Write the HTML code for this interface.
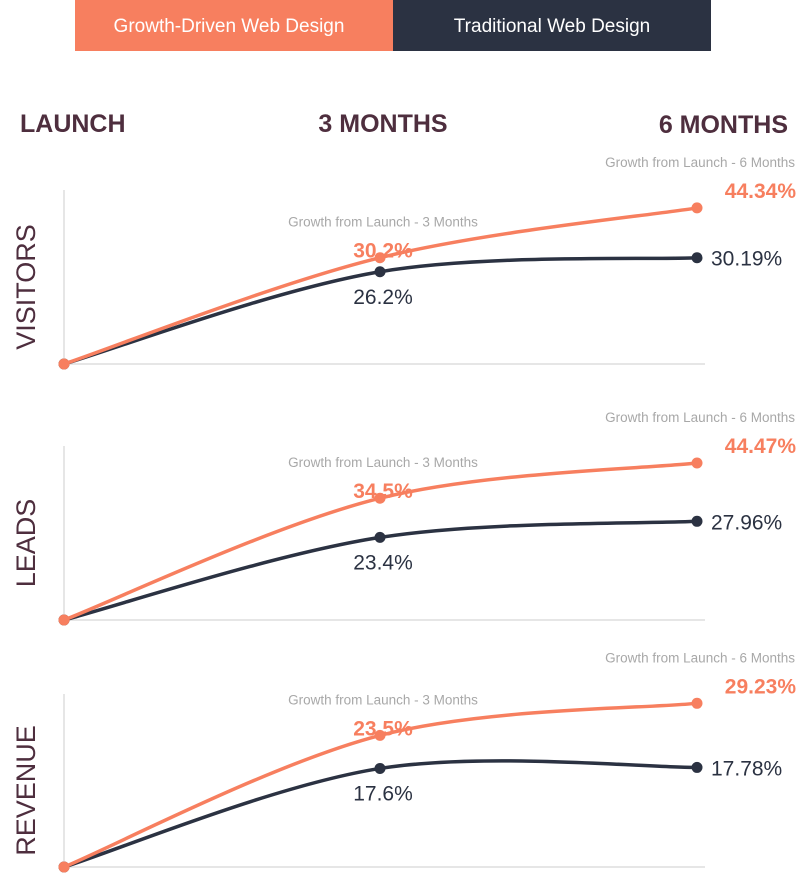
<!DOCTYPE html>
<html><head><meta charset="utf-8"><style>
body{margin:0;background:#fff;width:800px;height:873px;overflow:hidden;font-family:"Liberation Sans",sans-serif}
svg text{font-family:"Liberation Sans",sans-serif}
</style></head><body>
<svg id="c" width="800" height="873" viewBox="0 0 800 873">
<rect x="75" y="0" width="318" height="51" fill="#f77f5f"/>
<rect x="393" y="0" width="318" height="51" fill="#2b3242"/>
<text x="229" y="32" text-anchor="middle" font-size="19" fill="#fff">Growth-Driven Web Design</text>
<text x="552" y="32" text-anchor="middle" font-size="19" fill="#fff">Traditional Web Design</text>
<text x="20" y="132" font-size="25" font-weight="bold" fill="#4e2e3e">LAUNCH</text>
<text x="383" y="132" text-anchor="middle" font-size="25" font-weight="bold" fill="#4e2e3e">3 MONTHS</text>
<text x="788" y="133" text-anchor="end" font-size="25" font-weight="bold" fill="#4e2e3e">6 MONTHS</text>
<g id="panels"></g>
</svg>
<script>
const metrics = ["VISITORS","LEADS","REVENUE"];
const growthValues = [[0,30.2,44.34],[0,34.5,44.47],[0,23.5,29.23]];
const traditionalValues = [[0,26.2,30.19],[0,23.4,27.96],[0,17.6,17.78]];
const periods = ["Launch","3 Months","6 Months"];

const baselines=[364,620,867], scales=[3.52,3.53,5.6], axisTop=[190,446,694];
const xs=[64,380,697];
const NS="http://www.w3.org/2000/svg";
const g=document.getElementById('panels');
function mk(tag,attrs){const e=document.createElementNS(NS,tag);for(const k in attrs)e.setAttribute(k,attrs[k]);g.appendChild(e);return e;}
function yOf(p,v){return baselines[p]-v*scales[p];}
function path(pts){
  let d=`M${pts[0][0]},${pts[0][1]}`;
  for(let i=0;i<pts.length-1;i++){
    const p0=pts[Math.max(i-1,0)],p1=pts[i],p2=pts[i+1],p3=pts[Math.min(i+2,pts.length-1)];
    const c1=[p1[0]+(p2[0]-p0[0])/6,p1[1]+(p2[1]-p0[1])/6];
    const c2=[p2[0]-(p3[0]-p1[0])/6,p2[1]-(p3[1]-p1[1])/6];
    d+=` C${c1[0]},${c1[1]} ${c2[0]},${c2[1]} ${p2[0]},${p2[1]}`;
  }
  return d;
}
metrics.forEach((m,p)=>{
  const b=baselines[p];
  let e=mk('line',{x1:64,y1:axisTop[p],x2:64,y2:b,stroke:'#ddd','stroke-width':1.5});
  
  
  e=mk('line',{x1:64,y1:b,x2:705,y2:b,stroke:'#ddd','stroke-width':1.5});
  
  
  const cy=(axisTop[p]+b)/2+10;
  e=mk('text',{x:0,y:0,transform:`translate(35,${cy}) rotate(-90)`,'text-anchor':'middle','font-size':27,fill:'#4e2e3e'});
  e.textContent=m;
  
  
  [[traditionalValues,'#2b3242','traditional'],[growthValues,'#f77f5f','growth']].forEach(([arr,col,nm])=>{
    const pts=arr[p].map((v,i)=>[xs[i],yOf(p,v)]);
    let l=mk('path',{d:path(pts),fill:'none',stroke:col,'stroke-width':3.5});
    
    
    pts.forEach((pt,i)=>{
      const c=mk('circle',{cx:pt[0],cy:pt[1],r:5.5,fill:col});
      
      
    });
  });
  const go3=yOf(p,growthValues[p][1]), go6=yOf(p,growthValues[p][2]);
  const tr3=yOf(p,traditionalValues[p][1]), tr6=yOf(p,traditionalValues[p][2]);
  const lab=(x,y,txt,anchor,size,col,bold,name)=>{
    const t=mk('text',{x:x,y:y,'text-anchor':anchor,'font-size':size,fill:col,'font-weight':bold?'bold':'normal'});
    t.textContent=txt;
    
    
  };
  lab(383,go3-31,'Growth from Launch - '+periods[1],'middle',13.5,'#a8a8a8',false,'growth-note-3-months');
  lab(383,go3-29+(-0)+(-0)+ -0 + 0 + 0 + 0 + 0 + 0 + 0 + 0 + 0 + 0 + 0 + 29-29+ -0 + 0 + 0 + 0 + 0+0, '', 'middle',1,'#fff',false,'spacer');
  lab(383,go3-30+ -0 + 0 + 0 + 0 + 0 + 0 + 0 + 0 + 0 + 0 + 0 + 0 + 0 + 0 + 0 + 0 + 0 + 0 + 0 + 0 + 0 + 0 + 0 + 0 + 0 + 0 + 0 + 0 + 0 + 0 + 0 + 0 + 0 + 0 + 0 + 0 + 0 + 0 + 0 + 0 + 0 + 0 + 0 + 0 + 0 + 0 + 0 + 0 + 0 + 0 + 0 + 0 + 0 + 0 + 0 + 0 + 0 + 0 + 0 + 0 + 0 + 0 + 0 + 0 + 0 + 0 + 0 + 0 + 0 + 0 + 0 + 0 + 0 + 0 + 0 + 0 + 0 + 0 + 0 + 0 + 0 + 0 + 0 + 0 + 0 + 0 + 0 + 0 + 0 + 0 + 0 + 0 + 0 + 0 + 0 + 0 + 0 + 0 + 0 + 0 + 0 + 0 + 0 + 0 + 0 + 0 + 0 + 0 + 0 + 0 + 0 + 0 + 0 + 0 + 0 + 0 + 0 + 0 + 0 + 0 + 0 + 0 + 0 + 0 + 0 + 30, growthValues[p][1]+'%','middle',21,'#f77f5f',true,'growth-value-3-months');
  lab(383,tr3+32,traditionalValues[p][1]+'%','middle',21,'#2b3242',false,'traditional-value-3-months');
  lab(795,go6-41,'Growth from Launch - '+periods[2],'end',13.5,'#a8a8a8',false,'growth-note-6-months');
  lab(796,go6-10,growthValues[p][2]+'%','end',21,'#f77f5f',true,'growth-value-6-months');
  lab(711,tr6+8,traditionalValues[p][2]+'%','start',21,'#2b3242',false,'traditional-value-6-months');
});
</script>
</body></html>
